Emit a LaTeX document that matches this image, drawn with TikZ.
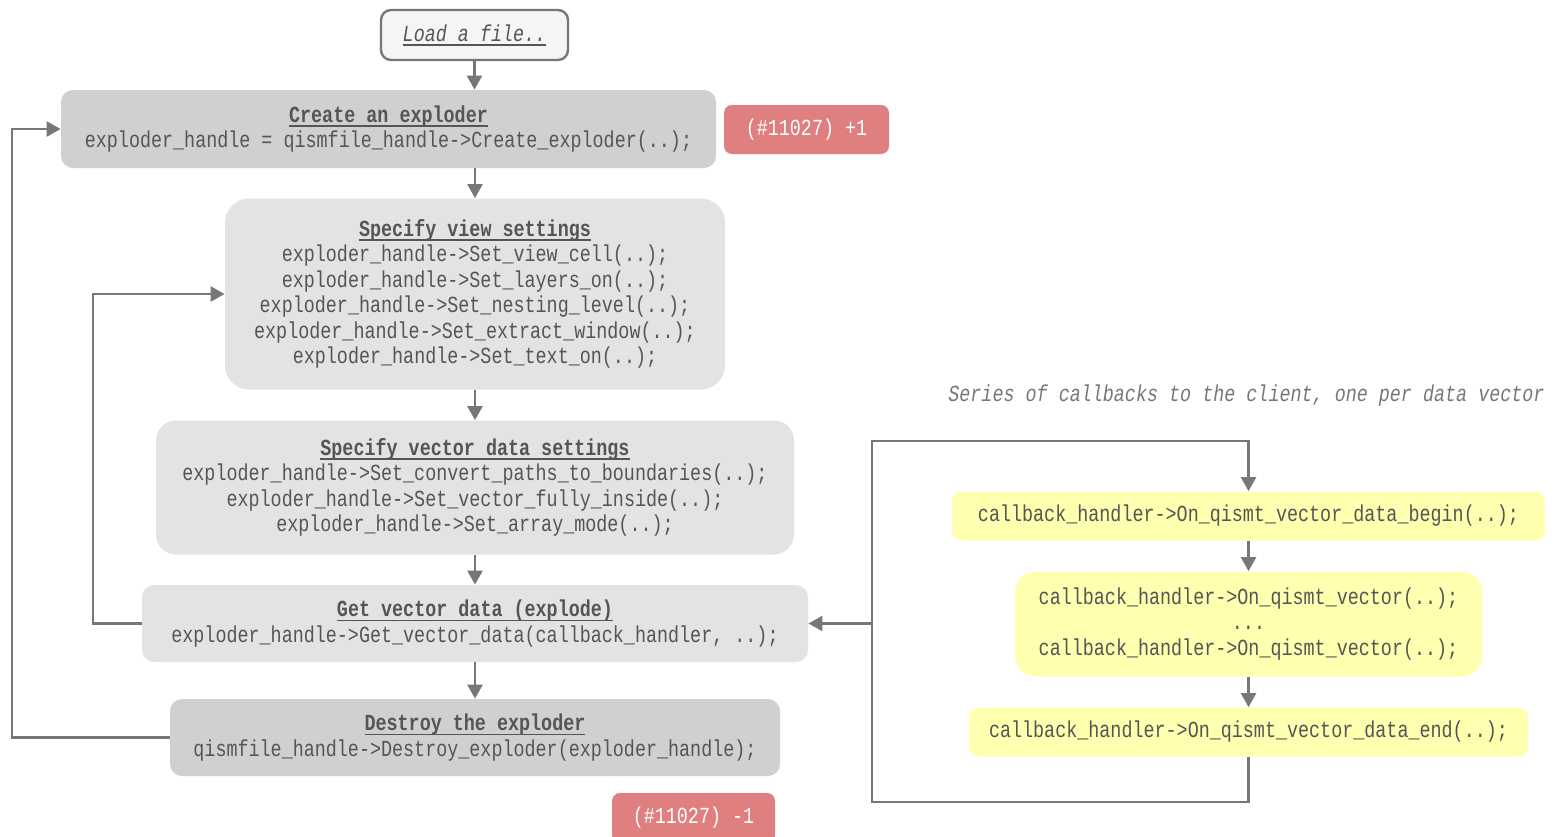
\documentclass[tikz,border=0pt]{standalone}
\usepackage{fontspec}
\usepackage{xcolor}
\usepackage{tikz}
\usetikzlibrary{arrows.meta, positioning, calc}
\newfontfamily\codefont[FakeStretch=0.8]{Liberation Mono}
\definecolor{inkgray}{HTML}{555555}
\definecolor{linegray}{HTML}{777777}
\definecolor{boxdark}{HTML}{D0D0D0}
\definecolor{boxlight}{HTML}{E3E3E3}
\definecolor{badgered}{HTML}{E07F7F}
\definecolor{cbyellow}{HTML}{FFFFB0}
\newcommand{\ulbox}[1]{\setbox0\hbox{#1}\rlap{\rule[-2.2pt]{\wd0}{0.7pt}}\box0}
\newcommand{\steptitle}[1]{\ulbox{\textbf{#1}}}

\begin{document}
\begin{tikzpicture}[
    x=0.5pt, y=-0.5pt,
    every node/.style={font=\codefont\fontsize{11.5}{12.75}\selectfont, text=inkgray, align=center, inner sep=0pt},
    box/.style={rounded corners=6pt, fill=boxlight},
    darkbox/.style={box, fill=boxdark},
    cbbox/.style={rounded corners=5pt, fill=cbyellow},
    badge/.style={rounded corners=4pt, fill=badgered, text=white},
    conn/.style={draw=linegray, line width=1.25pt, -{Triangle[length=7pt, width=7.5pt]}},
    wire/.style={draw=linegray, line width=1.25pt}
]
    \useasboundingbox (0,0) rectangle (1556,836);

    % main sequence
    \node[draw=linegray, line width=1.2pt, rounded corners=5pt, fill=black!4,
          minimum width=93.5pt, minimum height=25pt] (load) at (474.5,35)
        {\ulbox{\textit{Load a file..}}};
    \node[darkbox, minimum width=327.5pt, minimum height=39pt] (create) at (388.5,129)
        {\steptitle{Create an exploder}\\exploder\_handle = qismfile\_handle->Create\_exploder(..);};
    \node[badge, minimum width=82.5pt, minimum height=24.5pt] (badgeinc) at (806.5,129.5)
        {(\#11027) +1};
    \node[box, rounded corners=12pt, minimum width=250pt, minimum height=95.5pt] (view) at (475,294)
        {\steptitle{Specify view settings}\\
         exploder\_handle->Set\_view\_cell(..);\\
         exploder\_handle->Set\_layers\_on(..);\\
         exploder\_handle->Set\_nesting\_level(..);\\
         exploder\_handle->Set\_extract\_window(..);\\
         exploder\_handle->Set\_text\_on(..);};
    \node[box, rounded corners=10pt, minimum width=319pt, minimum height=67pt] (vector) at (475,487.5)
        {\steptitle{Specify vector data settings}\\
         exploder\_handle->Set\_convert\_paths\_to\_boundaries(..);\\
         exploder\_handle->Set\_vector\_fully\_inside(..);\\
         exploder\_handle->Set\_array\_mode(..);};
    \node[box, minimum width=333pt, minimum height=38.5pt] (getdata) at (475,623.5)
        {\steptitle{Get vector data (explode)}\\exploder\_handle->Get\_vector\_data(callback\_handler, ..);};
    \node[darkbox, minimum width=305pt, minimum height=38.5pt] (destroy) at (475,737.5)
        {\steptitle{Destroy the exploder}\\qismfile\_handle->Destroy\_exploder(exploder\_handle);};
    \node[badge, minimum width=81.5pt, minimum height=25pt] (badgedec) at (693.5,818)
        {(\#11027) -1};

    % callbacks
    \node[anchor=east, text=linegray] (series) at (1545,396)
        {\textit{Series of callbacks to the client, one per data vector}};
    \node[cbbox, minimum width=296.5pt, minimum height=24.5pt] (cbbegin) at (1248.5,516)
        {callback\_handler->On\_qismt\_vector\_data\_begin(..);};
    \node[cbbox, rounded corners=10pt, minimum width=233.5pt, minimum height=52.5pt] (cbvec) at (1248.5,624)
        {callback\_handler->On\_qismt\_vector(..);\\...\\callback\_handler->On\_qismt\_vector(..);};
    \node[cbbox, minimum width=279.5pt, minimum height=24.5pt] (cbend) at (1248.5,732)
        {callback\_handler->On\_qismt\_vector\_data\_end(..);};

    \coordinate (outer) at (12,0);
    \coordinate (inner) at (93,0);
    \coordinate (cbbl) at (872,802);
    \coordinate (cbtl) at (872,441);

    % arrows
    \draw[conn] (load.south) -- (load.south |- create.north);
    \draw[conn] (view.north |- create.south) -- (view.north);
    \draw[conn] (view.south) -- (vector.north);
    \draw[conn] (vector.south) -- (getdata.north);
    \draw[conn] (getdata.south) -- (destroy.north);
    \draw[conn] (destroy.west) -- (destroy.west -| outer) |- (create.west);
    \draw[conn] (getdata.west) -- (getdata.west -| inner) |- (view.west);
    \draw[conn] (cbbegin.south) -- (cbvec.north);
    \draw[conn] (cbvec.south) -- (cbend.north);
    \draw[conn] (cbend.south) |- (cbbl) -- (cbtl) -| (cbbegin.north);
    \draw[conn] (getdata.east -| cbtl) -- (getdata.east);
\end{tikzpicture}
\end{document}
